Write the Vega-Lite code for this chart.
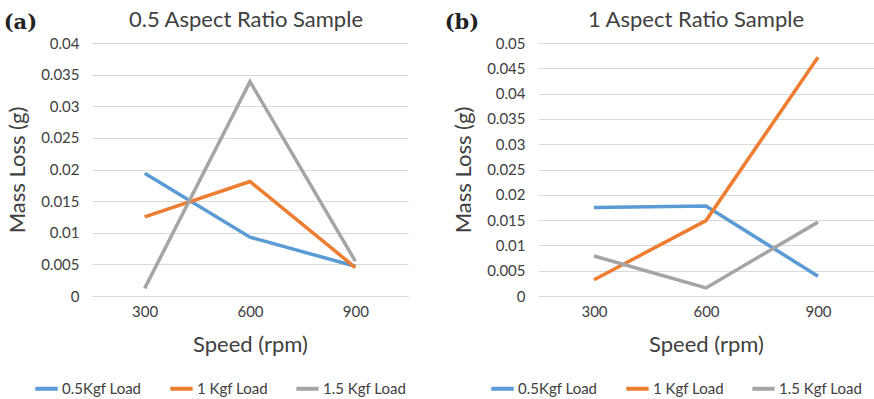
{
  "$schema": "https://vega.github.io/schema/vega-lite/v6.json",
  "padding": {"left": 3, "top": 9, "right": 0, "bottom": 0},
  "background": "white",
  "config": {
    "font": "Lato",
    "view": {"stroke": null},
    "axis": {"labelFont": "Lato", "titleFont": "Lato", "labelColor": "#404040", "titleColor": "#404040", "labelFontSize": 15, "titleFontSize": 22, "titleFontWeight": "normal", "ticks": false, "tickSize": 0, "gridColor": "#d9d9d9", "domainColor": "#d9d9d9"},
    "legend": {"labelFont": "Lato", "labelFontSize": 15, "labelColor": "#404040", "symbolType": "stroke", "symbolStrokeWidth": 4, "symbolSize": 500, "columnPadding": 20, "labelOffset": 2},
    "title": {"font": "Lato", "fontSize": 22, "fontWeight": "normal", "color": "#404040"}
  },
  "data": {"values": [
    {"panel": "a", "speed": "300", "load": "0.5Kgf Load", "loss": 0.0194},
    {"panel": "a", "speed": "600", "load": "0.5Kgf Load", "loss": 0.0093},
    {"panel": "a", "speed": "900", "load": "0.5Kgf Load", "loss": 0.0047},
    {"panel": "a", "speed": "300", "load": "1 Kgf Load", "loss": 0.0125},
    {"panel": "a", "speed": "600", "load": "1 Kgf Load", "loss": 0.0181},
    {"panel": "a", "speed": "900", "load": "1 Kgf Load", "loss": 0.0045},
    {"panel": "a", "speed": "300", "load": "1.5 Kgf Load", "loss": 0.0012},
    {"panel": "a", "speed": "600", "load": "1.5 Kgf Load", "loss": 0.0339},
    {"panel": "a", "speed": "900", "load": "1.5 Kgf Load", "loss": 0.0055},
    {"panel": "b", "speed": "300", "load": "0.5Kgf Load", "loss": 0.0175},
    {"panel": "b", "speed": "600", "load": "0.5Kgf Load", "loss": 0.0178},
    {"panel": "b", "speed": "900", "load": "0.5Kgf Load", "loss": 0.0039},
    {"panel": "b", "speed": "300", "load": "1 Kgf Load", "loss": 0.0032},
    {"panel": "b", "speed": "600", "load": "1 Kgf Load", "loss": 0.0149},
    {"panel": "b", "speed": "900", "load": "1 Kgf Load", "loss": 0.0472},
    {"panel": "b", "speed": "300", "load": "1.5 Kgf Load", "loss": 0.0079},
    {"panel": "b", "speed": "600", "load": "1.5 Kgf Load", "loss": 0.0016},
    {"panel": "b", "speed": "900", "load": "1.5 Kgf Load", "loss": 0.0146}
  ]},
  "spacing": 36,
  "resolve": {"scale": {"y": "independent", "color": "independent"}, "legend": {"color": "independent"}},
  "hconcat": [
    {
      "title": {"text": "(a)", "anchor": "start", "frame": "bounds", "font": "DejaVu Serif", "fontWeight": "bold", "fontSize": 21, "color": "#222222", "dy": 28, "dx": -3},
      "hconcat": [
        {
          "width": 316, "height": 253,
          "title": {"text": "0.5 Aspect Ratio Sample", "anchor": "middle", "frame": "group", "offset": 4, "dx": -4},
          "transform": [{"filter": "datum.panel == 'a'"}],
          "mark": {"type": "line", "strokeWidth": 3.5},
          "encoding": {
            "x": {"field": "speed", "type": "ordinal", "scale": {"type": "point", "padding": 0.5}, "axis": {"title": "Speed (rpm)", "labelAngle": 0, "labelPadding": 8, "titlePadding": 15, "grid": false}},
            "y": {"field": "loss", "type": "quantitative", "scale": {"domain": [0, 0.04], "nice": false}, "axis": {"title": "Mass Loss (g)", "values": [0, 0.005, 0.01, 0.015, 0.02, 0.025, 0.03, 0.035, 0.04], "format": "~g", "domain": false, "labelPadding": 13, "titlePadding": 11}},
            "color": {"field": "load", "type": "nominal", "sort": ["0.5Kgf Load", "1 Kgf Load", "1.5 Kgf Load"], "scale": {"range": ["#5B9BD5", "#ED7D31", "#A5A5A5"]}, "legend": {"title": null, "orient": "none", "direction": "horizontal", "columns": 3, "legendX": -59, "legendY": 332}}
          }
        }
      ]
    },
    {
      "title": {"text": "(b)", "anchor": "start", "frame": "bounds", "font": "DejaVu Serif", "fontWeight": "bold", "fontSize": 21, "color": "#222222", "dy": 28, "dx": -8},
      "hconcat": [
        {
          "width": 336, "height": 253,
          "title": {"text": "1 Aspect Ratio Sample", "anchor": "middle", "frame": "group", "offset": 4, "dx": -10},
          "transform": [{"filter": "datum.panel == 'b'"}],
          "mark": {"type": "line", "strokeWidth": 3.5},
          "encoding": {
            "x": {"field": "speed", "type": "ordinal", "scale": {"type": "point", "padding": 0.5}, "axis": {"title": "Speed (rpm)", "labelAngle": 0, "labelPadding": 8, "titlePadding": 15, "grid": false}},
            "y": {"field": "loss", "type": "quantitative", "scale": {"domain": [0, 0.05], "nice": false}, "axis": {"title": "Mass Loss (g)", "values": [0, 0.005, 0.01, 0.015, 0.02, 0.025, 0.03, 0.035, 0.04, 0.045, 0.05], "format": "~g", "domain": false, "labelPadding": 13, "titlePadding": 11}},
            "color": {"field": "load", "type": "nominal", "sort": ["0.5Kgf Load", "1 Kgf Load", "1.5 Kgf Load"], "scale": {"range": ["#5B9BD5", "#ED7D31", "#A5A5A5"]}, "legend": {"title": null, "orient": "none", "direction": "horizontal", "columns": 3, "legendX": -49, "legendY": 332}}
          }
        }
      ]
    }
  ]
}
